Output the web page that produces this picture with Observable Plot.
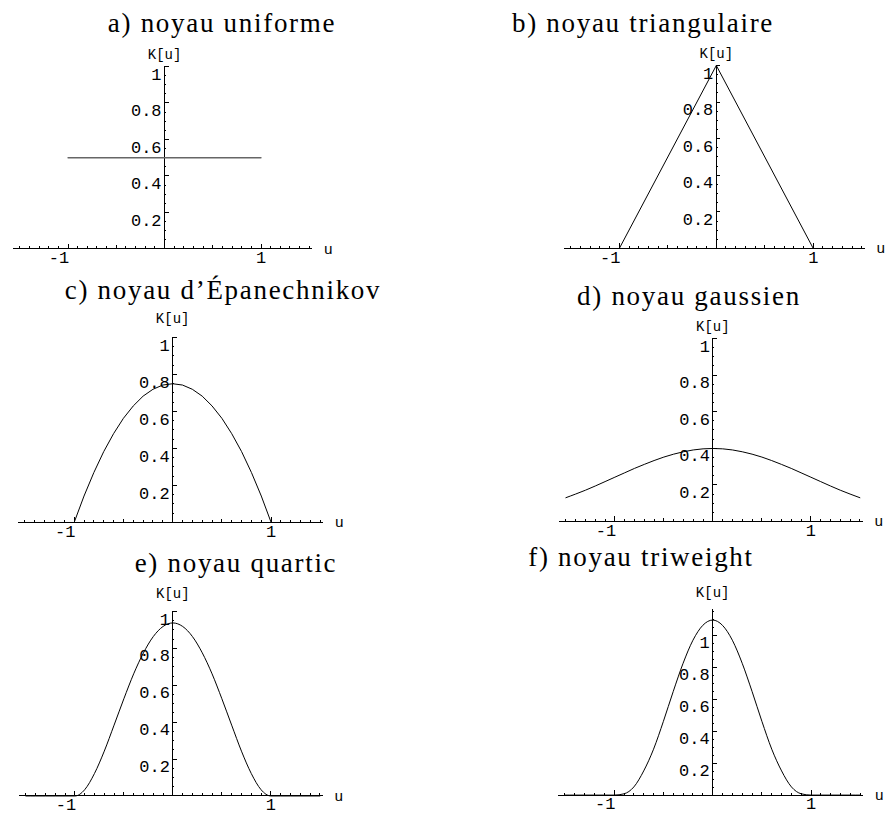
<!DOCTYPE html>
<html><head><meta charset="utf-8">
<script src="https://cdn.jsdelivr.net/npm/d3@7"></script>
<script src="https://cdn.jsdelivr.net/npm/@observablehq/plot@0.6"></script>
<style>
html,body{margin:0;padding:0;background:#fff;overflow:hidden;}
#root{position:relative;width:893px;height:816px;}
.panel{position:absolute;z-index:1;}
.title{position:absolute;font-family:"Liberation Serif",serif;font-size:27px;line-height:27px;letter-spacing:1.7px;white-space:nowrap;color:#000;transform:translateX(-50%);z-index:2;}
</style></head><body><div id="root"></div>
<script>
// ---- data ----
const uGrid = [-1.5,-1.4,-1.3,-1.2,-1.1,-1.0,-0.9,-0.8,-0.7,-0.6,-0.5,-0.4,-0.3,-0.2,-0.1,0,0.1,0.2,0.3,0.4,0.5,0.6,0.7,0.8,0.9,1.0,1.1,1.2,1.3,1.4,1.5];
const uniformU = [-1, 1];
const kUniform = [0.5, 0.5];
const triangleU = [-1.5, -1, 0, 1, 1.5];
const kTriangle = [0, 0, 1, 0, 0];
const kEpanechnikov = [0,0,0,0,0,0,0.143,0.27,0.383,0.48,0.563,0.63,0.683,0.72,0.743,0.75,0.743,0.72,0.683,0.63,0.563,0.48,0.383,0.27,0.143,0,0,0,0,0,0];
const kGauss = [0.130,0.150,0.171,0.194,0.218,0.242,0.266,0.290,0.312,0.333,0.352,0.368,0.381,0.391,0.397,0.399,0.397,0.391,0.381,0.368,0.352,0.333,0.312,0.290,0.266,0.242,0.218,0.194,0.171,0.150,0.130];
const kQuartic = [0,0,0,0,0,0,0.034,0.122,0.243,0.384,0.527,0.662,0.776,0.864,0.919,0.938,0.919,0.864,0.776,0.662,0.527,0.384,0.243,0.122,0.034,0,0,0,0,0,0];
const kTriweight = [0,0,0,0,0,0,0.008,0.051,0.151,0.287,0.461,0.648,0.824,0.968,1.061,1.094,1.061,0.968,0.824,0.648,0.461,0.287,0.151,0.051,0.008,0,0,0,0,0,0];
const titles = ["a) noyau uniforme","b) noyau triangulaire","c) noyau d\u2019\u00C9panechnikov","d) noyau gaussien","e) noyau quartic","f) noyau triweight"];
const xTickLabels = [-1, 1];
const yTickLabels = [0.2, 0.4, 0.6, 0.8, 1];
const xLabel = "u";
const yLabel = "K[u]";

// ---- layout (pixels) ----
const series = [
  {u: uniformU, k: kUniform, stroke: "#666", width: 1.3, curve: "linear"},
  {u: triangleU, k: kTriangle, stroke: "#000", width: 1, curve: "linear"},
  {u: uGrid, k: kEpanechnikov, stroke: "#000", width: 1, curve: "linear"},
  {u: uGrid, k: kGauss, stroke: "#000", width: 1, curve: "monotone-x"},
  {u: uGrid, k: kQuartic, stroke: "#000", width: 1, curve: "monotone-x"},
  {u: uGrid, k: kTriweight, stroke: "#000", width: 1, curve: "monotone-x"}
];
const layout = [
  {ox:164, oy:248, kx:96.5, ky:182.5, ytop:1,    tx:222, ty:33,  kuY:48},
  {ox:716, oy:248, kx:97,   ky:183,   ytop:1,    tx:643, ty:33,  kuY:48},
  {ox:172, oy:522, kx:98.5, ky:185,   ytop:1,    tx:223, ty:300, kuY:313},
  {ox:712, oy:521, kx:98,   ky:183,   ytop:1,    tx:689, ty:306, kuY:321},
  {ox:172, oy:795, kx:98,   ky:184.5, ytop:1,    tx:236, ty:573, kuY:587},
  {ox:712, oy:795, kx:98.5, ky:160,   ytop:1.16, tx:641, ty:567, kuY:587}
];
const monoFont = "'Liberation Mono'";
const xmin = -1.565, xmax = 1.535, mL = 12, mR = 30, mT = 45, mB = 30;
const root = document.getElementById("root");

series.forEach((s, i) => {
  const L = layout[i];
  const width = mL + (xmax - xmin) * L.kx + mR;
  const height = mT + L.ytop * L.ky + mB;
  const left = L.ox + xmin * L.kx - mL;
  const top = L.oy - L.ytop * L.ky - mT;
  const pts = s.u.map((u, j) => ({u, k: s.k[j]}));
  const py = 1 / L.ky, px = 1 / L.kx;
  const xMinor = d3.range(-15, 16).map(d => d / 10);
  const xMid = [-0.5, 0.5];
  const yMinor = d3.range(1, Math.floor(L.ytop * 20 + 1e-9) + 1).map(d => d / 20);
  const rule = {stroke: "#000", strokeWidth: 1, shapeRendering: "crispEdges"};
  const txt = {fontFamily: monoFont, fill: "#000"};
  const plot = Plot.plot({
    width, height, marginLeft: mL, marginRight: mR, marginTop: mT, marginBottom: mB,
    x: {domain: [xmin, xmax], axis: null},
    y: {domain: [0, L.ytop], axis: null},
    style: {background: "transparent", overflow: "visible", color: "#000"},
    marks: [
      Plot.ruleY([0], rule),
      Plot.ruleX([0], rule),
      Plot.ruleX(xMinor, {x: d => d, y1: 0, y2: 2 * py, ...rule}),
      Plot.ruleX(xMid, {x: d => d, y1: 0, y2: 3 * py, ...rule}),
      Plot.ruleX(xTickLabels, {x: d => d, y1: 0, y2: 4.5 * py, ...rule}),
      Plot.ruleY(yMinor, {y: d => d, x1: 0, x2: 2 * px, ...rule}),
      Plot.ruleY(yTickLabels, {y: d => d, x1: 0, x2: 4.5 * px, ...rule}),
      Plot.line(pts, {x: "u", y: "k", stroke: s.stroke, strokeWidth: s.width, curve: s.curve}),
      Plot.text(xTickLabels.filter(d => d < 0), {x: d => d, y: 0, text: d => String(d), lineAnchor: "top", dy: 2, dx: -9, fontSize: 17, ...txt}),
      Plot.text(xTickLabels.filter(d => d > 0), {x: d => d, y: 0, text: d => String(d), lineAnchor: "top", dy: 2, fontSize: 17, ...txt}),
      Plot.text(yTickLabels, {x: 0, y: d => d, text: d => d === 1 ? "1" : d.toFixed(1), textAnchor: "end", lineAnchor: "top", dx: -3, dy: 1, fontSize: 17, ...txt}),
      Plot.text([yLabel], {x: 0, frameAnchor: "top", dy: L.kuY - (L.oy - L.ytop * L.ky), fontSize: 14, ...txt}),
      Plot.text([xLabel], {y: 0, frameAnchor: "right", dx: 20, fontSize: 15, ...txt})
    ]
  });
  const div = document.createElement("div");
  div.className = "panel";
  div.style.left = left + "px";
  div.style.top = top + "px";
  div.style.width = width + "px";
  div.appendChild(plot);
  root.appendChild(div);

  const t = document.createElement("div");
  t.className = "title";
  t.textContent = titles[i];
  t.style.left = L.tx + "px";
  t.style.top = (L.ty - 22.6) + "px";
  root.appendChild(t);
});
</script>
</body></html>
